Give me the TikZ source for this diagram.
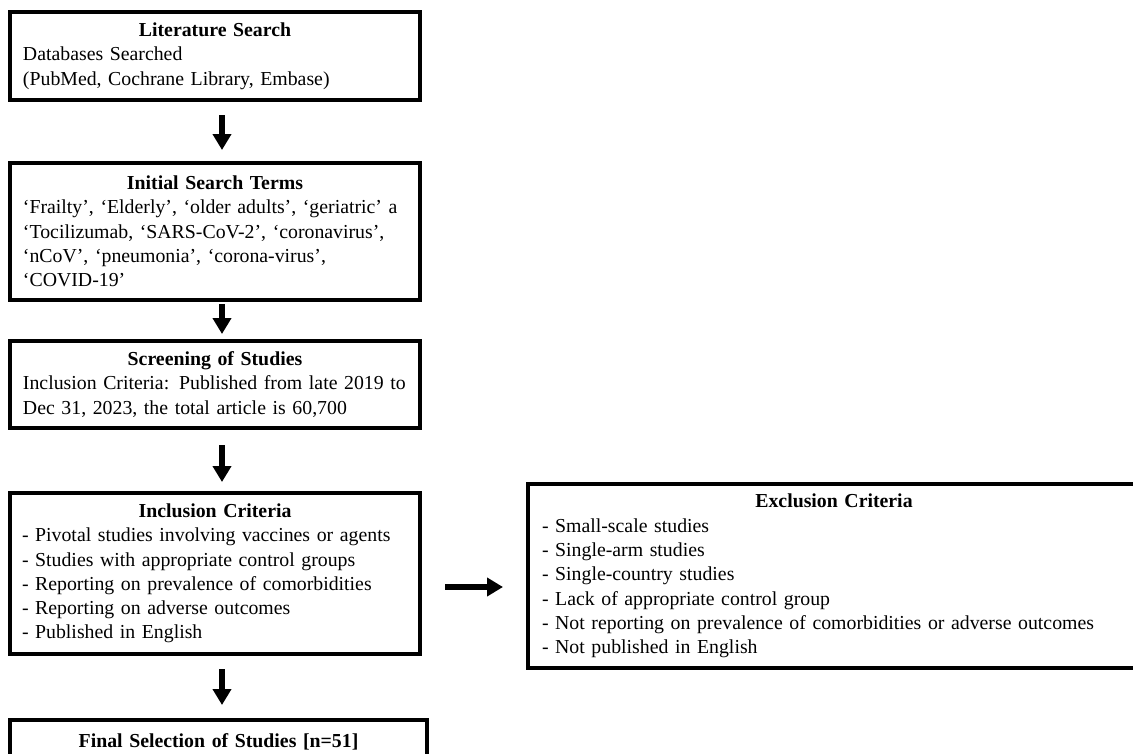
\documentclass[tikz,border=0pt]{standalone}
\usepackage{fontspec}
\setmainfont{Liberation Serif}
\usetikzlibrary{arrows.meta}
\tikzset{
  box/.style={draw, line width=4pt, inner ysep=2pt, align=left,
    font=\fontsize{19.8}{24.3}\selectfont},
  arr/.style={line width=6.5pt, -{Triangle[width=18pt,length=16pt]}},
}
\begin{document}
\begin{tikzpicture}[x=1pt,y=-1pt]
\useasboundingbox (0,0) rectangle (1133,753);
\clip (0,0) rectangle (1133,753);
\fill[white] (0,0) rectangle (1133,753);

\node[box, inner xsep=13pt, text width=384pt, minimum width=410pt, minimum height=88pt] (b1) at (215,56)
 {{\centering\textbf{Literature Search}\par}
  Databases Searched\\
  (PubMed, Cochrane Library, Embase)};

\node[box, inner xsep=13pt, text width=384pt, minimum width=410pt, minimum height=137pt] (b2) at (215,231.5)
 {{\centering\textbf{Initial Search Terms}\par}
  ‘Frailty’, ‘Elderly’, ‘older adults’, ‘geriatric’ a\\
  ‘Tocilizumab,  ‘SARS-CoV-2’, ‘coronavirus’,\\
  ‘nCoV’, ‘pneumonia’, ‘corona-virus’,\\
  ‘COVID-19’};

\node[box, inner xsep=13pt, text width=384pt, minimum width=410pt, minimum height=87pt] (b3) at (215,384.5)
 {{\centering\textbf{Screening of Studies}\par}
  Inclusion Criteria: Published from late 2019 to\\
  Dec 31, 2023, the total article is 60,700};

\node[box, inner xsep=12pt, text width=386pt, minimum width=410pt, minimum height=161pt] (b4) at (215,573.5)
 {{\centering\textbf{Inclusion Criteria}\par}
  - Pivotal studies involving vaccines or agents\\
  - Studies with appropriate control groups\\
  - Reporting on prevalence of comorbidities\\
  - Reporting on adverse outcomes\\
  - Published in English};

\node[box, inner xsep=12pt, text width=393pt, minimum width=417pt, minimum height=44pt] (b5) at (218.5,742)
 {{\centering\textbf{Final Selection of Studies [n=51]}\par}};

\node[box, inner xsep=14pt, text width=584pt, minimum width=612pt, minimum height=184pt] (ex) at (834,576)
 {{\centering\textbf{Exclusion Criteria}\par}
  - Small-scale studies\\
  - Single-arm studies\\
  - Single-country studies\\
  - Lack of appropriate control group\\
  - Not reporting on prevalence of comorbidities or adverse outcomes\\
  - Not published in English};

\draw[arr] ([xshift=7pt,yshift=-13pt]b1.south) -- ([xshift=7pt,yshift=11pt]b2.north);
\draw[arr] ([xshift=7pt,yshift=-2pt]b2.south) -- ([xshift=7pt,yshift=5pt]b3.north);
\draw[arr] ([xshift=7pt,yshift=-15pt]b3.south) -- ([xshift=7pt,yshift=9pt]b4.north);
\draw[arr] ([xshift=7pt,yshift=-13pt]b4.south) -- ([xshift=3.5pt,yshift=13pt]b5.north);
\draw[arr] ([xshift=23pt,yshift=-13.5pt]b4.east) -- ([xshift=-23pt,yshift=-11pt]ex.west);
\end{tikzpicture}
\end{document}
